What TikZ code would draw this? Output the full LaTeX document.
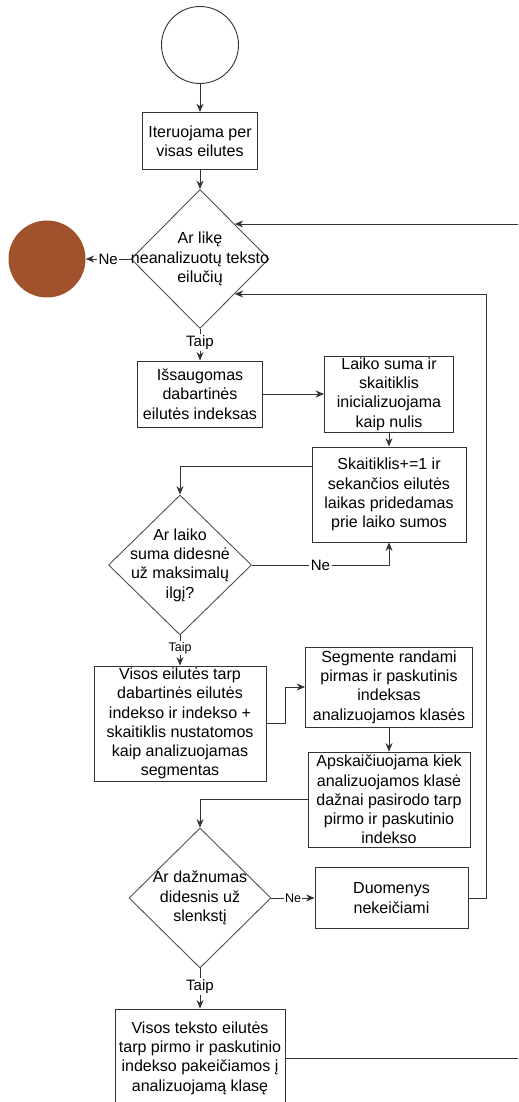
\documentclass[tikz,border=0pt]{standalone}
\usepackage{fontspec}
\setmainfont{Liberation Sans}
\usetikzlibrary{shapes.geometric, arrows.meta}
\definecolor{linegray}{rgb}{0.2, 0.2, 0.2}
\definecolor{stopbrown}{RGB}{160, 82, 45}
\tikzstyle{box} = [rectangle,draw=linegray,line width=0.65pt,fill=white,align=center,inner sep=0pt,font=\fontsize{11.4}{13.7}\selectfont]
\tikzstyle{choice} = [diamond,draw=linegray!85,line width=0.65pt,inner sep=0pt]
\tikzstyle{qtext} = [align=center,inner sep=0pt,font=\fontsize{11.4}{13.7}\selectfont]
\tikzstyle{edgelabel} = [fill=white,inner sep=1pt,font=\fontsize{10.7}{12}\selectfont]
\tikzstyle{smalllabel} = [fill=white,inner sep=1pt,font=\fontsize{8.9}{10}\selectfont]
\tikzstyle{arrow} = [draw=linegray,line width=0.65pt,-{Stealth[length=6pt,width=5pt]}]
\tikzstyle{line} = [draw=linegray,line width=0.65pt]

\begin{document}
\begin{tikzpicture}
	\useasboundingbox (0,0) rectangle (12.95,-27.55);
	\node [circle,draw=linegray,line width=0.65pt,minimum size=1.925cm](start) at (5,-1.125) {};
	\node [box,below of=start,yshift=-1.4cm,minimum width=2.875cm,minimum height=1.425cm](iter){Iteruojama per\\visas eilutes};
	\node [choice,below of=iter,yshift=-1.95cm,minimum width=3.45cm,minimum height=3.475cm,label={[qtext]center:Ar likę\\neanalizuotų teksto\\eilučių}](left){};
	\node [circle,fill=stopbrown,minimum size=1.925cm,left of=left,xshift=-2.825cm](stop){};
	\node [box,below of=left,yshift=-2.375cm,minimum width=3.125cm,minimum height=1.65cm](save){Išsaugomas\\dabartinės\\eilutės indeksas};
	\node [box,right of=save,xshift=3.725cm,minimum width=3.225cm,minimum height=1.9cm](init){Laiko suma ir\\skaitiklis\\inicializuojama\\kaip nulis};
	\node [box,below of=init,yshift=-1.5125cm,minimum width=3.85cm,minimum height=2.375cm](add){Skaitiklis+=1 ir\\sekančios eilutės\\laikas pridedamas\\prie laiko sumos};
	\node [choice,below of=save,xshift=-0.5cm,yshift=-3.275cm,minimum width=3.575cm,minimum height=3.5cm,label={[qtext]center:Ar laiko\\suma didesnė\\už maksimalų\\ilgį?}](over){};
	\node [box,below of=over,yshift=-2.9625cm,minimum width=4.3cm,minimum height=2.875cm](seg){Visos eilutės tarp\\dabartinės eilutės\\indekso ir indekso +\\skaitiklis nustatomos\\kaip analizuojamas\\segmentas};
	\node [box,below of=add,yshift=-3.8125cm,minimum width=4.175cm,minimum height=2cm](find){Segmente randami\\pirmas ir paskutinis\\indeksas\\analizuojamos klasės};
	\node [box,below of=find,yshift=-1.8125cm,minimum width=4.05cm,minimum height=2.375cm](count){Apskaičiuojama kiek\\analizuojamos klasė\\dažnai pasirodo tarp\\pirmo ir paskutinio\\indekso};
	\node [choice,below of=seg,xshift=0.5cm,yshift=-3.3625cm,minimum width=3.55cm,minimum height=3.5cm,label={[qtext]center:Ar dažnumas\\didesnis už\\slenkstį}](freq){};
	\node [box,right of=freq,xshift=3.7875cm,minimum width=3.825cm,minimum height=1.525cm](keep){Duomenys\\nekeičiami};
	\node [box,below of=freq,yshift=-3cm,minimum width=4.25cm,minimum height=2.45cm](apply){Visos teksto eilutės\\tarp pirmo ir paskutinio\\indekso pakeičiamos į\\analizuojamą klasę};
	\coordinate (rim) at (12.95,0);
	\coordinate (back) at (12.15,0);
	
	\draw[arrow](start)--(iter);
	\draw[arrow](iter)--(left);
	\draw[arrow](left)--node[edgelabel]{Ne}(stop);
	\draw[arrow](left)--node[edgelabel,pos=0.42]{Taip}(save);
	\draw[arrow](save)--(init);
	\draw[arrow](init)--(add);
	\draw[arrow]([yshift=0.7125cm]add.west)-|(over.north);
	\draw[arrow](over.east)-|node[edgelabel,pos=0.25]{Ne}(add.south);
	\draw[arrow](over)--node[smalllabel,pos=0.42]{Taip}(seg);
	\draw[arrow](seg.east)--++(0.475,0)|-(find.west);
	\draw[arrow](find)--(count);
	\draw[arrow](count.west)-|(freq.north);
	\draw[arrow](freq)--node[smalllabel]{Ne}(keep);
	\draw[arrow](freq)--node[edgelabel,pos=0.45]{Taip}(apply);
	\draw[arrow](keep.east)-|(back |- left.south east)--(left.south east);
	\draw[arrow](left.north east -| rim)--(left.north east);
	\draw[line](apply.east)--(apply.east -| rim);
\end{tikzpicture}
\end{document}
